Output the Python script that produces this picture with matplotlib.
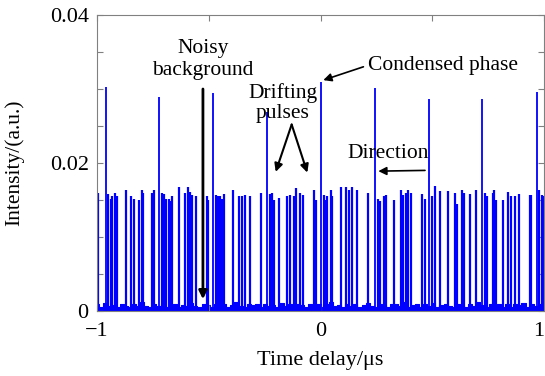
import numpy as np
import matplotlib
matplotlib.use("Agg")
import matplotlib.pyplot as plt

plt.rcParams['font.family'] = ['Liberation Serif', 'DejaVu Serif']

# Tall "condensed phase" pulses (time delay in µs, intensity a.u.)
tall_x = [-0.961, -0.721, -0.480, -0.241, 0.003, 0.244, 0.485, 0.724, 0.967]
tall_h = [0.0303, 0.0289, 0.0295, 0.0269, 0.0309, 0.0301, 0.0286, 0.0287, 0.0296]

# Drifting pulses
mid_x = [-0.996, -0.949, -0.939, -0.931, -0.919, -0.912, -0.872, -0.847, -0.836, -0.814,
         -0.799, -0.793, -0.753, -0.745, -0.709, -0.702, -0.693, -0.679, -0.672, -0.666,
         -0.632, -0.606, -0.594, -0.584, -0.575, -0.557, -0.509, -0.503, -0.468, -0.459,
         -0.451, -0.439, -0.430, -0.390, -0.365, -0.350, -0.336, -0.315, -0.266, -0.226,
         -0.217, -0.206, -0.186, -0.149, -0.137, -0.119, -0.108, -0.092, -0.077, -0.029,
         -0.020, 0.016, 0.023, 0.030, 0.046, 0.053, 0.092, 0.116, 0.129, 0.142,
         0.165, 0.214, 0.256, 0.266, 0.286, 0.295, 0.330, 0.359, 0.371, 0.383,
         0.393, 0.404, 0.454, 0.469, 0.499, 0.512, 0.535, 0.572, 0.600, 0.611,
         0.633, 0.644, 0.669, 0.694, 0.736, 0.746, 0.770, 0.778, 0.785, 0.815,
         0.840, 0.852, 0.872, 0.888, 0.936, 0.943, 0.979, 0.990, 0.997]
mid_h = [0.0160, 0.0158, 0.0152, 0.0155, 0.0159, 0.0155, 0.0164, 0.0155, 0.0152, 0.0150,
         0.0164, 0.0160, 0.0160, 0.0164, 0.0159, 0.0158, 0.0152, 0.0151, 0.0149, 0.0155,
         0.0167, 0.0159, 0.0168, 0.0161, 0.0157, 0.0155, 0.0155, 0.0150, 0.0157, 0.0155,
         0.0155, 0.0152, 0.0158, 0.0164, 0.0155, 0.0155, 0.0157, 0.0156, 0.0159, 0.0158,
         0.0160, 0.0150, 0.0153, 0.0155, 0.0157, 0.0155, 0.0166, 0.0159, 0.0157, 0.0163,
         0.0150, 0.0157, 0.0150, 0.0155, 0.0164, 0.0155, 0.0168, 0.0168, 0.0163, 0.0167,
         0.0164, 0.0160, 0.0151, 0.0149, 0.0155, 0.0157, 0.0150, 0.0164, 0.0157, 0.0160,
         0.0163, 0.0160, 0.0158, 0.0151, 0.0155, 0.0169, 0.0162, 0.0162, 0.0159, 0.0145,
         0.0164, 0.0160, 0.0158, 0.0164, 0.0159, 0.0155, 0.0160, 0.0163, 0.0150, 0.0150,
         0.0161, 0.0155, 0.0155, 0.0158, 0.0157, 0.0157, 0.0163, 0.0157, 0.0155]

# Noisy background envelope (read along the time axis)
noise_env = [0.0009, 0.0006, 0.0011, 0.0007, 0.0008, 0.0005, 0.0010, 0.0007, 0.0006, 0.0009,
             0.0007, 0.0012, 0.0007, 0.0006, 0.0009, 0.0007, 0.0010, 0.0005, 0.0008, 0.0009,
             0.0006, 0.0008, 0.0007, 0.0011, 0.0007, 0.0005, 0.0009, 0.0008, 0.0006, 0.0010,
             0.0007, 0.0009, 0.0006, 0.0008, 0.0012, 0.0007, 0.0005, 0.0009, 0.0008, 0.0010,
             0.0006, 0.0009, 0.0007, 0.0008, 0.0005, 0.0011, 0.0007, 0.0009, 0.0006, 0.0009,
             0.0008, 0.0006, 0.0010, 0.0007, 0.0009, 0.0005, 0.0009, 0.0012, 0.0007, 0.0008,
             0.0006, 0.0010, 0.0007, 0.0009, 0.0006, 0.0008, 0.0011, 0.0007, 0.0005, 0.0009,
             0.0008, 0.0006, 0.0010, 0.0009, 0.0007, 0.0012, 0.0006, 0.0008, 0.0009, 0.0005,
             0.0009, 0.0007, 0.0011, 0.0006, 0.0008, 0.0009, 0.0007, 0.0005, 0.0010, 0.0008,
             0.0006, 0.0009, 0.0007, 0.0012, 0.0008, 0.0006, 0.0009, 0.0007, 0.0010, 0.0006,
             0.0009, 0.0005, 0.0009, 0.0008, 0.0011, 0.0006, 0.0009, 0.0007, 0.0010, 0.0007]

x_ticks = [-1, -0.5, 0, 0.5, 1]
x_ticklabels = ['\u22121', '', '0', '', '1']
y_ticks = [0, 0.005, 0.01, 0.015, 0.02, 0.025, 0.03, 0.035, 0.04]
y_ticklabels = ['0', '', '', '', '0.02', '', '', '', '0.04']

blue = '#0000ff'
fig = plt.figure(figsize=(5.45, 3.76), dpi=100)
ax = fig.add_axes([97/545, 1-311/376, 447/545, 296/376])

noise_x = np.linspace(-1, 1, len(noise_env))
ax.fill_between(noise_x, 0, noise_env, color=blue, lw=0.8, step='mid')
ax.vlines(mid_x, 0, mid_h, color=blue, lw=1.6)
ax.vlines(tall_x, 0, tall_h, color=blue, lw=1.3)

ax.set_xlim(-1, 1)
ax.set_ylim(0, 0.04)
ax.set_xticks(x_ticks)
ax.set_xticklabels(x_ticklabels)
ax.set_yticks(y_ticks)
ax.set_yticklabels(y_ticklabels)
ax.tick_params(direction='in', top=True, right=True, length=4, width=0.8,
               color='#808080', labelsize=16, pad=6)
ax.tick_params(axis='x', pad=8)
ax.get_xticklabels()[-1].set_horizontalalignment('right')
for s in ax.spines.values():
    s.set_color('#808080')
    s.set_linewidth(0.8)

ax.set_xlabel('Time delay/\u03bcs', fontsize=16, labelpad=7)
ax.set_ylabel('Intensity/(a.u.)', fontsize=15.5, labelpad=18)

ap = dict(arrowstyle='-|>', color='black', lw=1.5, mutation_scale=12, shrinkA=0, shrinkB=0)
fs = 15.5
ax.text(-0.526, 0.0340, 'Noisy\nbackground', ha='center', va='center', fontsize=fs, linespacing=1.2)
ax.annotate('', xy=(-0.526, 0.0016), xytext=(-0.526, 0.0300), arrowprops=dict(ap, lw=2.0))

ax.text(-0.168, 0.0281, 'Drifting\npulses', ha='center', va='center', fontsize=fs, linespacing=1.05)
ax.annotate('', xy=(-0.2005, 0.0188), xytext=(-0.129, 0.0252), arrowprops=ap)
ax.annotate('', xy=(-0.059, 0.0187), xytext=(-0.129, 0.0252), arrowprops=ap)

ax.text(0.2125, 0.0332, 'Condensed phase', ha='left', va='center', fontsize=fs)
ax.annotate('', xy=(0.0126, 0.0312), xytext=(0.192, 0.0330), arrowprops=dict(ap, lw=1.2))

ax.text(0.1186, 0.0213, 'Direction', ha='left', va='center', fontsize=fs)
ax.annotate('', xy=(0.2586, 0.0189), xytext=(0.4676, 0.0190), arrowprops=dict(ap, lw=1.2))

fig.savefig('out.png', dpi=100)
